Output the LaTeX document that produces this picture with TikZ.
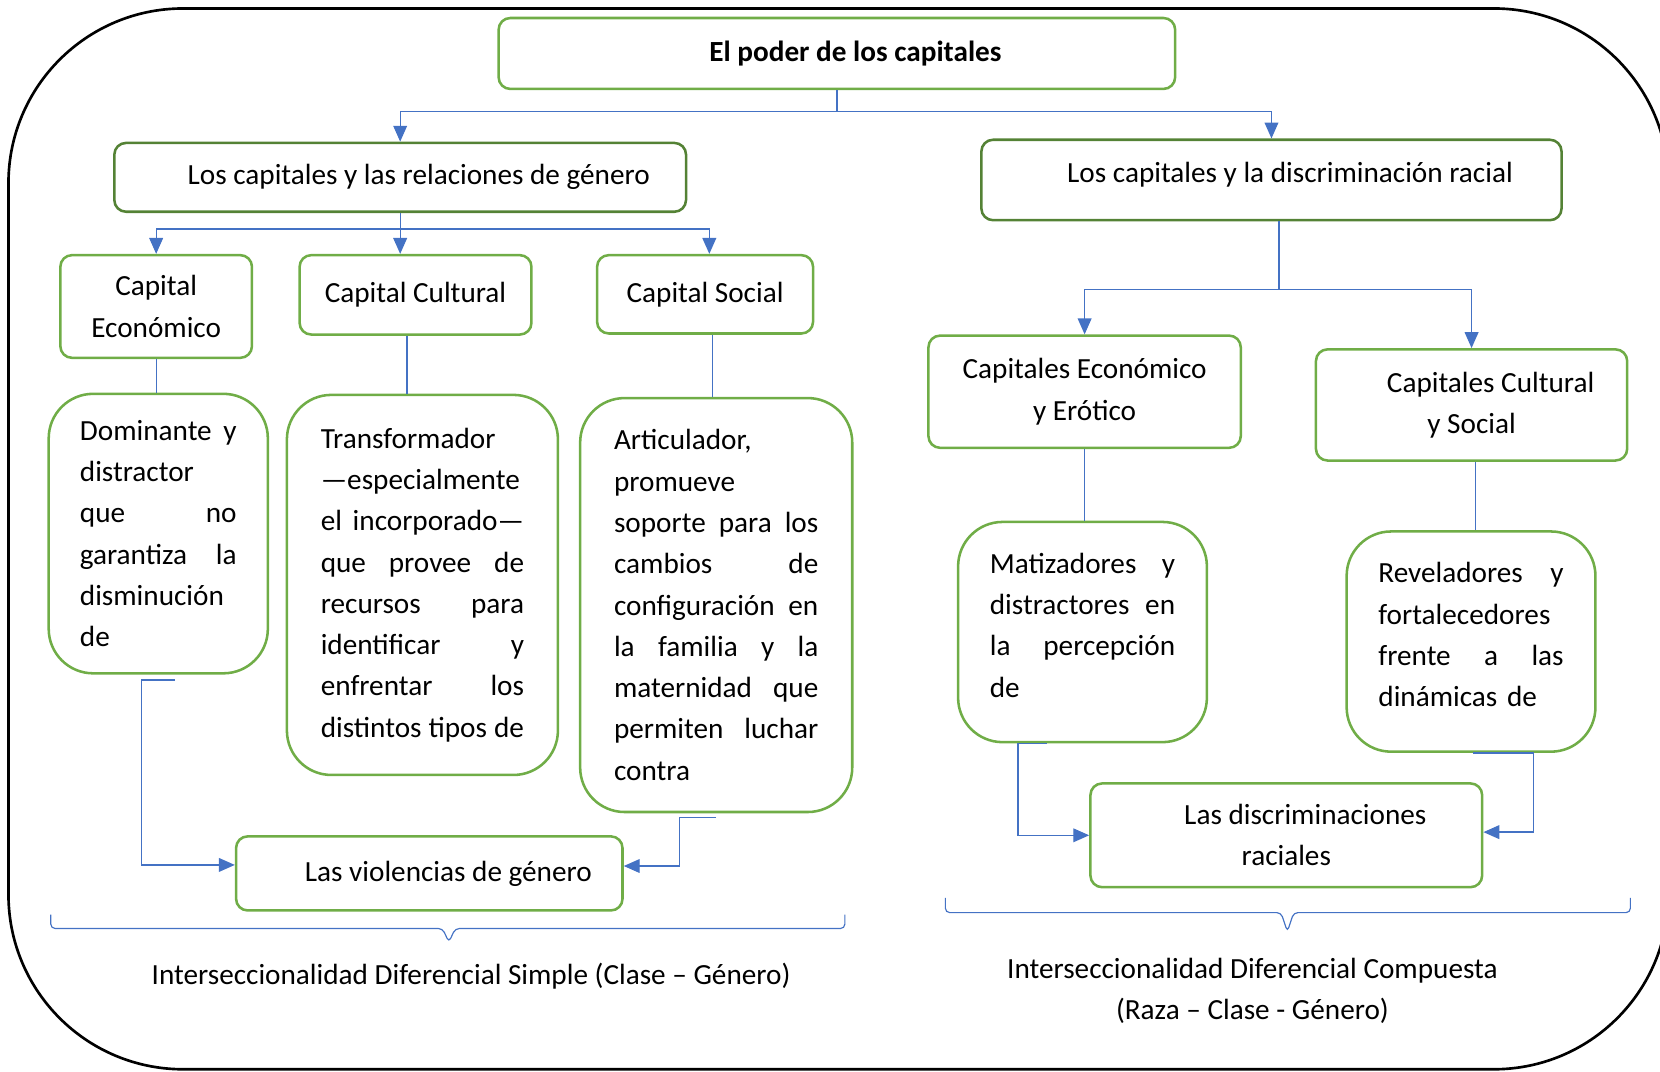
\documentclass[tikz,border=0pt]{standalone}
\usepackage{fontspec}
\setmainfont{Carlito}
\usetikzlibrary{arrows.meta}
\definecolor{verde}{HTML}{70AD47}
\definecolor{verdeosc}{HTML}{548235}
\definecolor{azul}{HTML}{4472C4}
\newcommand{\fs}{\fontsize{27.6}{39}\selectfont}
\newcommand{\jl}[1]{{\spaceskip=\fontdimen2\font plus 1fil\relax\makebox[\hsize][s]{#1}}}
\setlength{\parindent}{0pt}
\begin{document}
\begin{tikzpicture}
[x=1pt, y=1pt,
every node/.style={font=\fs},
caja/.style={draw=verde, line width=2.4pt, rounded corners=11pt, align=center, inner sep=0pt},
cajaosc/.style={caja, draw=verdeosc},
texto/.style={caja, rounded corners=42pt, align=left},
flecha/.style={draw=azul, line width=1.2pt, -{Triangle[length=15pt,width=13pt]}},
linea/.style={draw=azul, line width=1.2pt},
llave/.style={draw=azul, line width=1.1pt, rounded corners=4pt}]
\useasboundingbox (0,0) rectangle (1568,-1012);
\draw[line width=2.5pt, rounded corners=165pt] (8,-8) rectangle (1576,-1010);
\node[caja, font=\fs\bfseries, minimum width=639pt, minimum height=67pt] (ti) at (790.5,-50.5) {\hspace*{35pt}El poder de los capitales};
\node[cajaosc, minimum width=540pt, minimum height=65pt] (rg) at (378,-167.5) {\hspace*{35pt}Los capitales y las relaciones de género};
\node[cajaosc, minimum width=548pt, minimum height=76pt, text depth=14pt] (dr) at (1201,-170) {\hspace*{35pt}Los capitales y la discriminación racial};
\node[caja, minimum width=181pt, minimum height=97pt] (ce) at (147.5,-289.5) {Capital\\Económico};
\node[caja, minimum width=219pt, minimum height=75pt] (cc) at (392.5,-278.5) {Capital Cultural};
\node[caja, minimum width=204pt, minimum height=74pt] (cs) at (666,-278) {Capital Social};
\node[caja, minimum width=295pt, minimum height=106pt] (cer) at (1024.5,-370) {Capitales Económico\\y Erótico};
\node[caja, minimum width=294pt, minimum height=105pt] (ccs) at (1390,-382.5) {\hspace*{36pt}Capitales Cultural\\y Social};
\node[texto, text width=148pt, minimum width=207pt, minimum height=264pt] (do) at (149.5,-504) {\jl{Dominante y}\\distractor\\\jl{que no}\\\jl{garantiza la}\\disminución\\de};
\node[texto, text width=192pt, minimum width=256pt, minimum height=359pt] (tr) at (399,-552.5) {Transformador\\—especialmente\\\jl{el incorporado—}\\\jl{que provee de}\\\jl{recursos para}\\\jl{identificar y}\\\jl{enfrentar los}\\\jl{distintos tipos de}};
\node[texto, text width=193pt, minimum width=257pt, minimum height=391pt] (ar) at (676.5,-571.5) {Articulador,\\promueve\\\jl{soporte para los}\\\jl{cambios de}\\\jl{configuración en}\\\jl{la familia y la}\\\jl{maternidad que}\\\jl{permiten luchar}\\contra};
\node[texto, text width=175pt, minimum width=235pt, minimum height=208pt, text depth=130pt] (mt) at (1022.5,-597) {\jl{Matizadores y}\\\jl{distractores en}\\\jl{la percepción}\\de};
\node[texto, text width=175pt, minimum width=235pt, minimum height=208pt, text depth=130pt] (rv) at (1389.5,-606) {\jl{Reveladores y}\\fortalecedores\\\jl{frente a las}\\dinámicas de};
\node[caja, minimum width=365pt, minimum height=70pt] (vg) at (405.5,-825) {\hspace*{36pt}Las violencias de género};
\node[caja, minimum width=370pt, minimum height=98pt] (dc) at (1215,-789) {\hspace*{36pt}Las discriminaciones\\raciales};
\draw[flecha] (ti.south) -- ++(0,-20) -| (rg.north);
\draw[flecha] (ti.south) -- ++(0,-20) -| (dr.north);
\draw[flecha] (rg.south) -- ++(0,-15) -| (ce.north);
\draw[flecha] (rg.south) -- (rg.south |- cc.north);
\draw[flecha] (rg.south) -- ++(0,-15) -| ([xshift=4pt]cs.north);
\draw[flecha] ([xshift=7pt]dr.south) -- ++(0,-64) -| (cer.north);
\draw[flecha] ([xshift=7pt]dr.south) -- ++(0,-64) -| (ccs.north);
\draw[linea] (ce.south) -- (ce.south |- do.north);
\draw[linea] ([xshift=-8pt]cc.south) -- ([xshift=-8pt]cc.south |- tr.north);
\draw[linea] ([xshift=7pt]cs.south) -- ([xshift=7pt]cs.south |- ar.north);
\draw[linea] (cer.south) -- (cer.south |- mt.north);
\draw[linea] ([xshift=4pt]ccs.south) -- ([xshift=4pt]ccs.south |- rv.north);
\draw[flecha] ([xshift=16pt,yshift=-5pt]do.south) -- ++(-32,0) |- ([yshift=8pt]vg.west);
\draw[flecha] ([yshift=-4pt]ar.south) -- ++(-35,0) |- ([yshift=7pt]vg.east);
\draw[flecha] ([xshift=-34pt]mt.south) -- ++(-27,0) |- (dc.west);
\draw[flecha] ([xshift=2pt]rv.south) -- ++(57,0) |- ([yshift=3pt]dc.east);
\draw[llave] (48,-864) -- (48,-877) -- (418,-877) -- (424,-890) -- (430,-877) -- (798,-877) -- (798,-864);
\draw[llave] (893,-848) -- (893,-862) -- (1210,-862) -- (1216,-880) -- (1222,-862) -- (1540,-862) -- (1540,-848);
\node (ids) at (445,-922) {Interseccionalidad Diferencial Simple (Clase – Género)};
\node[align=center] (idc) at (1183,-936) {Interseccionalidad Diferencial Compuesta\\(Raza – Clase - Género)};
\end{tikzpicture}
\end{document}
